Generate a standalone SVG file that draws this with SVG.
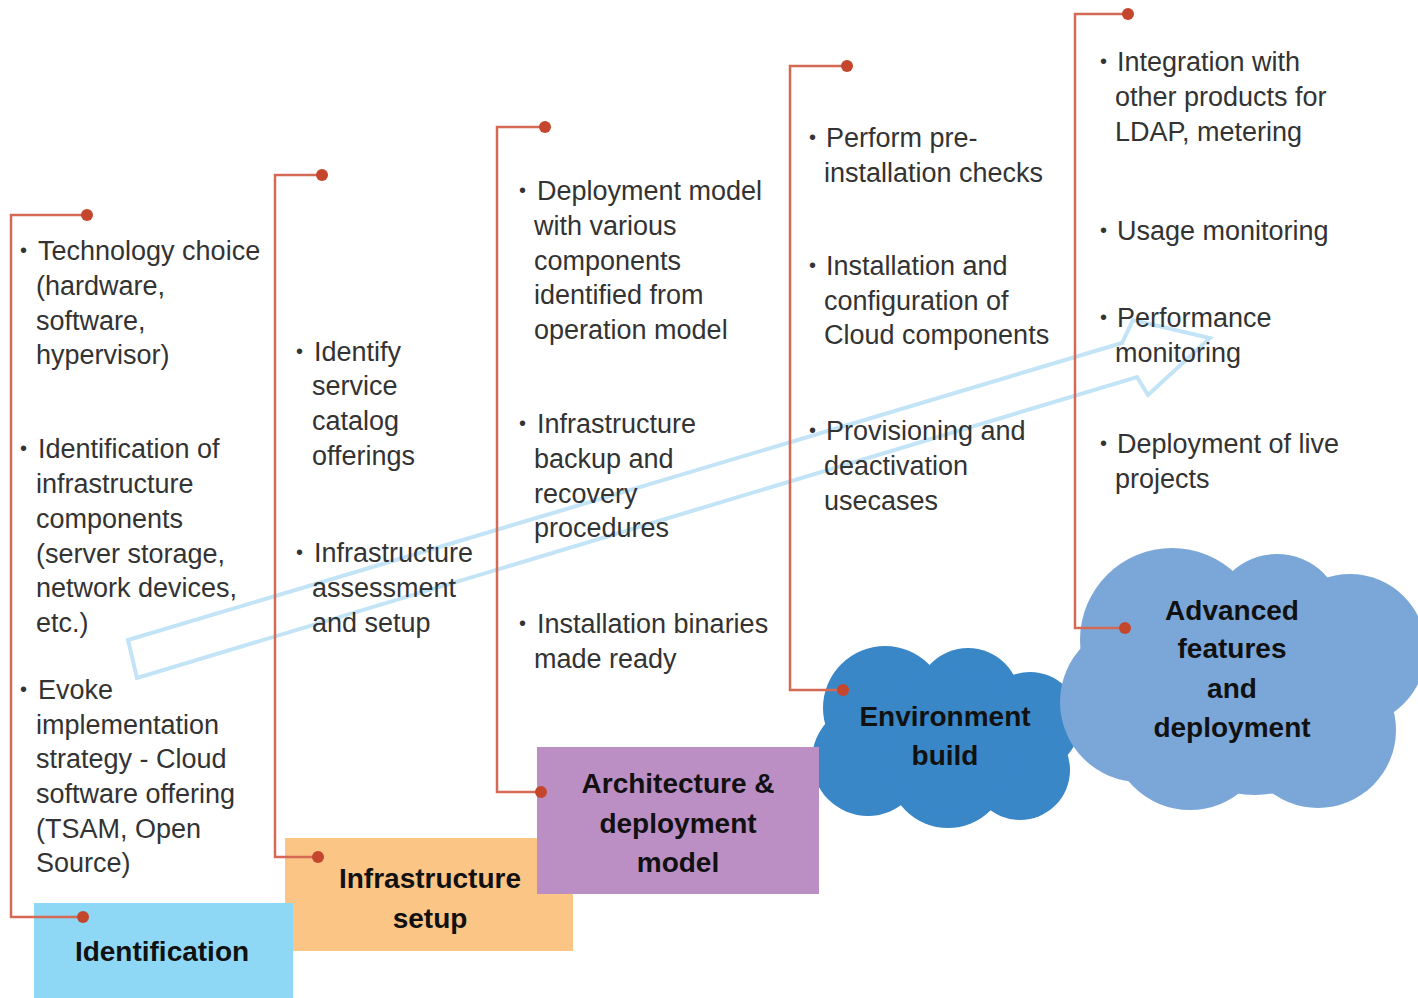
<svg xmlns="http://www.w3.org/2000/svg" width="1418" height="998" viewBox="0 0 1418 998">
<style>
.t{font-family:"Liberation Sans",Arial,sans-serif;font-size:27px;fill:#333}
.b{font-family:"Liberation Sans",Arial,sans-serif;font-size:20px;fill:#333}
.lbl{font-family:"Liberation Sans",Arial,sans-serif;font-size:28px;font-weight:bold;fill:#111;text-anchor:middle}
.br{fill:none;stroke:#d46a55;stroke-width:2.5}
.dot{fill:#c4472d}
</style>
<rect width="1418" height="998" fill="#fff"/>

<g id="arrow">
<polygon points="128,640 1122,343 1133,320 1210,338 1148,395 1137,377 137,678" fill="none" stroke="#c2e4f6" stroke-width="4" stroke-linejoin="miter"/>
</g>

<g id="node-environment">
<g fill="#3a87c8">
<circle cx="885" cy="708" r="62"/>
<circle cx="968" cy="700" r="52"/>
<circle cx="1030" cy="722" r="50"/>
<circle cx="868" cy="760" r="56"/>
<circle cx="948" cy="768" r="60"/>
<circle cx="1020" cy="770" r="50"/>
<circle cx="950" cy="740" r="70"/>
</g>
<text class="lbl" x="945" y="726">Environment</text>
<text class="lbl" x="945" y="765">build</text>
</g>

<g id="node-advanced">
<g fill="#7ba7d8">
<circle cx="1172" cy="640" r="92"/>
<circle cx="1140" cy="702" r="80"/>
<circle cx="1277" cy="620" r="66"/>
<circle cx="1350" cy="650" r="76"/>
<circle cx="1318" cy="730" r="78"/>
<circle cx="1190" cy="730" r="80"/>
<circle cx="1255" cy="690" r="105"/>
</g>
<text class="lbl" x="1232" y="620">Advanced</text>
<text class="lbl" x="1232" y="658">features</text>
<text class="lbl" x="1232" y="698">and</text>
<text class="lbl" x="1232" y="737">deployment</text>
</g>

<g id="node-infrastructure">
<rect x="285" y="838" width="288" height="113" fill="#fbc585"/>
<text class="lbl" x="430" y="888">Infrastructure</text>
<text class="lbl" x="430" y="928">setup</text>
</g>

<g id="node-identification">
<rect x="34" y="903" width="259" height="95" fill="#8fd8f5"/>
<text class="lbl" x="162" y="961">Identification</text>
</g>

<g id="node-architecture">
<rect x="537" y="747" width="282" height="147" fill="#bb8fc3"/>
<text class="lbl" x="678" y="793">Architecture &amp;</text>
<text class="lbl" x="678" y="833">deployment</text>
<text class="lbl" x="678" y="872">model</text>
</g>

<g id="connectors">
<polyline class="br" points="87,215 11,215 11,917 83,917"/>
<circle class="dot" cx="87" cy="215" r="6"/>
<circle class="dot" cx="83" cy="917" r="6"/>
<polyline class="br" points="322,175 275,175 275,857 318,857"/>
<circle class="dot" cx="322" cy="175" r="6"/>
<circle class="dot" cx="318" cy="857" r="6"/>
<polyline class="br" points="545,127 497,127 497,792 541,792"/>
<circle class="dot" cx="545" cy="127" r="6"/>
<circle class="dot" cx="541" cy="792" r="6"/>
<polyline class="br" points="847,66 790,66 790,690 843,690"/>
<circle class="dot" cx="847" cy="66" r="6"/>
<circle class="dot" cx="843" cy="690" r="6"/>
<polyline class="br" points="1128,14 1075,14 1075,628 1125,628"/>
<circle class="dot" cx="1128" cy="14" r="6"/>
<circle class="dot" cx="1125" cy="628" r="6"/>
</g>

<g id="text-identification">
<text class="b" x="20" y="257">•</text>
<text class="t" x="38" y="260">Technology choice</text>
<text class="t" x="36" y="295">(hardware,</text>
<text class="t" x="36" y="330">software,</text>
<text class="t" x="36" y="364">hypervisor)</text>
<text class="b" x="20" y="455">•</text>
<text class="t" x="38" y="458">Identification of</text>
<text class="t" x="36" y="493">infrastructure</text>
<text class="t" x="36" y="528">components</text>
<text class="t" x="36" y="563">(server storage,</text>
<text class="t" x="36" y="597">network devices,</text>
<text class="t" x="36" y="632">etc.)</text>
<text class="b" x="20" y="696">•</text>
<text class="t" x="38" y="699">Evoke</text>
<text class="t" x="36" y="734">implementation</text>
<text class="t" x="36" y="768">strategy - Cloud</text>
<text class="t" x="36" y="803">software offering</text>
<text class="t" x="36" y="838">(TSAM, Open</text>
<text class="t" x="36" y="872">Source)</text>
</g>

<g id="text-infrastructure">
<text class="b" x="296" y="358">•</text>
<text class="t" x="314" y="361">Identify</text>
<text class="t" x="312" y="395">service</text>
<text class="t" x="312" y="430">catalog</text>
<text class="t" x="312" y="465">offerings</text>
<text class="b" x="296" y="559">•</text>
<text class="t" x="314" y="562">Infrastructure</text>
<text class="t" x="312" y="597">assessment</text>
<text class="t" x="312" y="632">and setup</text>
</g>

<g id="text-architecture">
<text class="b" x="519" y="197">•</text>
<text class="t" x="537" y="200">Deployment model</text>
<text class="t" x="534" y="235">with various</text>
<text class="t" x="534" y="270">components</text>
<text class="t" x="534" y="304">identified from</text>
<text class="t" x="534" y="339">operation model</text>
<text class="b" x="519" y="430">•</text>
<text class="t" x="537" y="433">Infrastructure</text>
<text class="t" x="534" y="468">backup and</text>
<text class="t" x="534" y="503">recovery</text>
<text class="t" x="534" y="537">procedures</text>
<text class="b" x="519" y="630">•</text>
<text class="t" x="537" y="633">Installation binaries</text>
<text class="t" x="534" y="668">made ready</text>
</g>

<g id="text-environment">
<text class="b" x="809" y="144">•</text>
<text class="t" x="826" y="147">Perform pre-</text>
<text class="t" x="824" y="182">installation checks</text>
<text class="b" x="809" y="272">•</text>
<text class="t" x="826" y="275">Installation and</text>
<text class="t" x="824" y="310">configuration of</text>
<text class="t" x="824" y="344">Cloud components</text>
<text class="b" x="809" y="437">•</text>
<text class="t" x="826" y="440">Provisioning and</text>
<text class="t" x="824" y="475">deactivation</text>
<text class="t" x="824" y="510">usecases</text>
</g>

<g id="text-advanced">
<text class="b" x="1100" y="68">•</text>
<text class="t" x="1117" y="71">Integration with</text>
<text class="t" x="1115" y="106">other products for</text>
<text class="t" x="1115" y="141">LDAP, metering</text>
<text class="b" x="1100" y="237">•</text>
<text class="t" x="1117" y="240">Usage monitoring</text>
<text class="b" x="1100" y="324">•</text>
<text class="t" x="1117" y="327">Performance</text>
<text class="t" x="1115" y="362">monitoring</text>
<text class="b" x="1100" y="450">•</text>
<text class="t" x="1117" y="453">Deployment of live</text>
<text class="t" x="1115" y="488">projects</text>
</g>
</svg>
